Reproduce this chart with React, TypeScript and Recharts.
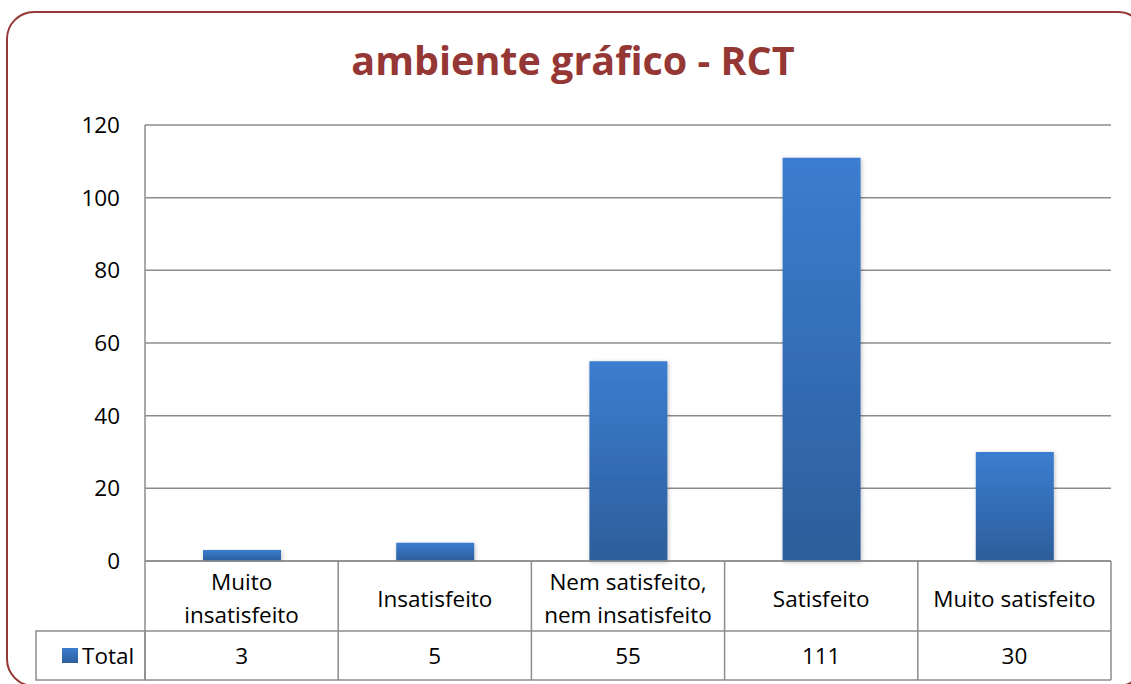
import React from "react";
import { BarChart, Bar, XAxis, YAxis, CartesianGrid } from "recharts";

const categories = [
  "Muito insatisfeito",
  "Insatisfeito",
  "Nem satisfeito, nem insatisfeito",
  "Satisfeito",
  "Muito satisfeito",
];
const categoryLines = [
  ["Muito", "insatisfeito"],
  ["Insatisfeito"],
  ["Nem satisfeito,", "nem insatisfeito"],
  ["Satisfeito"],
  ["Muito satisfeito"],
];
const totals = [3, 5, 55, 111, 30];
const yTicks = [0, 20, 40, 60, 80, 100, 120];

const data = categories.map((c, i) => ({ name: c, total: totals[i] }));

const FONT = "'Open Sans', 'Noto Sans', sans-serif";
const GRID = "#8c8c8c";
const HEADER_H = 70;
const ROW_H = 49;
const FS = 22.5;

function TableTick(props: any) {
  const { x, y, payload, width, visibleTicksCount } = props;
  const i = payload.index;
  const bw = width / visibleTicksCount;
  const left = x - bw / 2;
  const right = x + bw / 2;
  const lines = categoryLines[i];
  const lh = 33;
  const startY = y + HEADER_H / 2 + 2 - ((lines.length - 1) * lh) / 2;
  return (
    <g>
      <line x1={left} y1={y} x2={left} y2={y + HEADER_H + ROW_H} stroke={GRID} strokeWidth={1.5} />
      {i === visibleTicksCount - 1 && (
        <line x1={right} y1={y} x2={right} y2={y + HEADER_H + ROW_H} stroke={GRID} strokeWidth={1.5} />
      )}
      <line x1={left} y1={y + HEADER_H} x2={right} y2={y + HEADER_H} stroke={GRID} strokeWidth={1.5} />
      <line x1={left} y1={y + HEADER_H + ROW_H} x2={right} y2={y + HEADER_H + ROW_H} stroke={GRID} strokeWidth={1.5} />
      {lines.map((t, k) => (
        <text key={k} x={x} y={startY + k * lh} textAnchor="middle" dominantBaseline="central" fontSize={FS} fill="#000" fontFamily={FONT}>
          {t}
        </text>
      ))}
      <text x={x} y={y + HEADER_H + ROW_H / 2} textAnchor="middle" dominantBaseline="central" fontSize={FS} fill="#000" fontFamily={FONT}>
        {totals[i]}
      </text>
      {i === 0 && (
        <g>
          <rect x={36} y={y + HEADER_H} width={left - 36} height={ROW_H} fill="none" stroke={GRID} strokeWidth={1.5} />
          <rect x={62} y={y + HEADER_H + 17} width={16} height={15} fill="url(#barGrad)" />
          <text x={82} y={y + HEADER_H + ROW_H / 2} dominantBaseline="central" fontSize={FS} fill="#000" fontFamily={FONT}>
            Total
          </text>
        </g>
      )}
    </g>
  );
}

export default function App() {
  return (
    <div style={{ position: "fixed", left: 0, top: 0, width: 1131, height: 684, overflow: "hidden", background: "#fff" }}>
      <div
        style={{
          position: "absolute",
          left: 6,
          top: 11,
          width: 1136,
          height: 672,
          border: "2px solid #953735",
          borderRadius: 28,
        }}
      />
      <div
        style={{
          position: "absolute",
          left: 0,
          top: 33,
          width: 1146,
          textAlign: "center",
          fontFamily: FONT,
          fontWeight: 700,
          fontSize: 39.5,
          color: "#953735",
        }}
      >
        ambiente gráfico - RCT
      </div>
      <div style={{ position: "absolute", left: 0, top: 0 }}>
        <BarChart width={1131} height={684} data={data} margin={{ top: 125, right: 20, bottom: 2, left: 85 }}>
          <defs>
            <linearGradient id="barGrad" x1="0" y1="0" x2="0" y2="1">
              <stop offset="0%" stopColor="#3b7dd0" />
              <stop offset="100%" stopColor="#2d5e9b" />
            </linearGradient>
            <filter id="barShadow" x="-20%" y="-5%" width="140%" height="110%">
              <feDropShadow dx="1" dy="1" stdDeviation="2" floodColor="#000" floodOpacity="0.25" />
            </filter>
          </defs>
          <CartesianGrid vertical={false} stroke={GRID} strokeWidth={1.5} />
          <XAxis
            dataKey="name"
            interval={0}
            height={121}
            tickSize={0}
            tickMargin={0}
            tickLine={false}
            axisLine={{ stroke: GRID, strokeWidth: 1.5 }}
            tick={<TableTick />}
          />
          <YAxis
            width={60}
            domain={[0, 120]}
            ticks={yTicks}
            interval={0}
            tickLine={false}
            tickSize={8}
            tickMargin={17}
            axisLine={{ stroke: GRID, strokeWidth: 1.5 }}
            tick={{ fontSize: FS, fill: "#000", fontFamily: FONT }}
          />
          <Bar dataKey="total" fill="url(#barGrad)" barSize={78} filter="url(#barShadow)" isAnimationActive={false} />
        </BarChart>
      </div>
    </div>
  );
}
